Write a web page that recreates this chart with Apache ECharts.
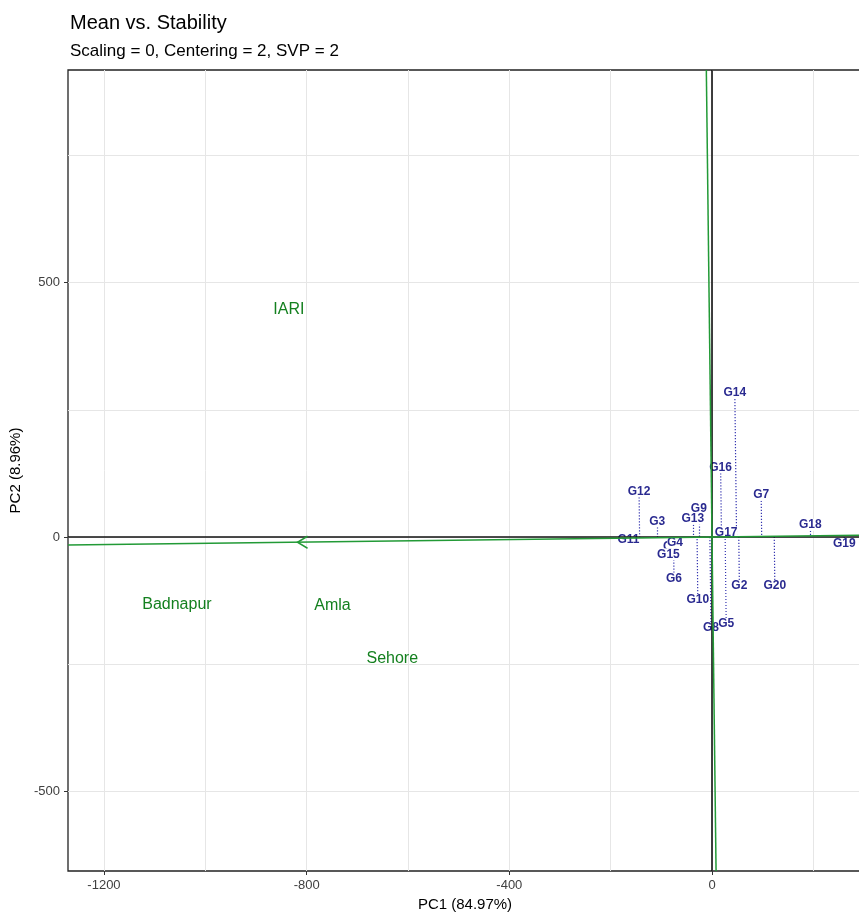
<!DOCTYPE html>
<html>
<head>
    <meta charset="utf-8">
    <title>Mean vs. Stability</title>
    <script src="https://cdn.jsdelivr.net/npm/echarts@6.0.0/dist/echarts.min.js"></script>
    <style>
        body { margin: 0; background: #fff; }
    </style>
</head>
<body>
<div id="main" style="width:859px;height:914px;"></div>
<script>
    // genotype scores (PC1, PC2)
    var genotypes = ['G1','G2','G3','G4','G5','G6','G7','G8','G9','G10',
                     'G11','G12','G13','G14','G15','G16','G17','G18','G19','G20'];
    var genX = [-81, 54, -108, -73, 28, -75, 97, -2, -26, -28,
                -165, -144, -38, 45, -86, 17, 28, 194, 261, 124];
    var genY = [-19, -96, 31, -11, -171, -82, 83, -179, 56, -124,
                -6, 90, 36, 283, -34, 137, 8, 24, -14, -96];

    // environment scores
    var envs = ['IARI', 'Badnapur', 'Amla', 'Sehore'];
    var envX = [-835, -1056, -749, -631];
    var envY = [446, -132, -134, -238];

    // average environment coordinate (arrow of the AEA)
    var avgEnv = [-818, -10];

    var xTicks = [-1200, -800, -400, 0];
    var yTicks = [-500, 0, 500];
    var xGrid = [-1200, -1000, -800, -600, -400, -200, 0, 200];
    var yGrid = [-500, -250, 0, 250, 500, 750];

    var xMin = -1271, xMax = 296, yMin = -656, yMax = 917.5;
    var green = '#229a36', blue = '#2a2a90';
    var font = 'Liberation Sans, Arial, sans-serif';

    var len = Math.sqrt(avgEnv[0] * avgEnv[0] + avgEnv[1] * avgEnv[1]);
    var ux = avgEnv[0] / len, uy = avgEnv[1] / len;

    var gridData = [];
    xGrid.forEach(function (v) { gridData.push({coords: [[v, yMin], [v, yMax]]}); });
    yGrid.forEach(function (v) { gridData.push({coords: [[xMin, v], [xMax, v]]}); });

    var projData = genotypes.map(function (g, i) {
        var t = genX[i] * ux + genY[i] * uy;
        return {coords: [[genX[i], genY[i]], [t * ux, t * uy]]};
    });

    var zeroData = [
        {coords: [[xMin, 0], [xMax, 0]]},
        {coords: [[0, yMin], [0, yMax]]}
    ];
    var aeaData = [
        {coords: [[xMin, xMin * uy / ux], [xMax, xMax * uy / ux]]},
        {coords: [[-uy * yMax / ux, yMax], [-uy * yMin / ux, yMin]]}
    ];

    var myChart = echarts.init(document.getElementById('main'));
    myChart.setOption({
        backgroundColor: '#fff',
        animation: false,
        textStyle: {fontFamily: font},
        title: [{
            text: 'Mean vs. Stability',
            left: 65, top: 8,
            textStyle: {fontSize: 20, fontWeight: 'normal', color: '#000', fontFamily: font}
        }, {
            text: 'Scaling = 0, Centering = 2, SVP = 2',
            left: 65, top: 38,
            textStyle: {fontSize: 17, fontWeight: 'normal', color: '#000', fontFamily: font}
        }],
        grid: {
            left: 68, top: 70, width: 794, height: 801,
            outerBoundsMode: 'none', containLabel: false,
            show: true, borderColor: '#222', borderWidth: 1.3, backgroundColor: '#fff'
        },
        xAxis: {
            type: 'value', min: xMin, max: xMax,
            name: 'PC1 (84.97%)', nameLocation: 'middle', nameGap: 26,
            nameTextStyle: {fontSize: 15, color: '#000', fontFamily: font},
            axisLine: {show: false, onZero: false},
            axisTick: {show: true, length: 4, customValues: xTicks, lineStyle: {color: '#333'}},
            axisLabel: {
                customValues: xTicks, margin: 8, fontSize: 13, color: '#404040',
                formatter: function (v) { return String(v); }
            },
            splitLine: {show: false}
        },
        yAxis: {
            type: 'value', min: yMin, max: yMax,
            name: 'PC2 (8.96%)', nameLocation: 'middle', nameGap: 30, nameRotate: 90,
            nameTextStyle: {fontSize: 15, color: '#000', fontFamily: font},
            axisLine: {show: false, onZero: false},
            axisTick: {show: true, length: 4, customValues: yTicks, lineStyle: {color: '#333'}},
            axisLabel: {
                customValues: yTicks, margin: 8, fontSize: 13, color: '#404040',
                formatter: function (v) { return String(v); }
            },
            splitLine: {show: false}
        },
        series: [
            {
                type: 'lines', coordinateSystem: 'cartesian2d', z: 1, silent: true,
                data: gridData,
                lineStyle: {color: '#e6e6e6', width: 1, opacity: 1}
            },
            {
                type: 'lines', coordinateSystem: 'cartesian2d', z: 2, silent: true,
                data: projData,
                lineStyle: {color: '#3434b0', width: 1.2, type: [1.2, 1.8], opacity: 1}
            },
            {
                type: 'scatter', z: 3, symbolSize: 1,
                itemStyle: {color: 'transparent', opacity: 1},
                data: genotypes.map(function (g, i) { return {name: g, value: [genX[i], genY[i]]}; }),
                label: {
                    show: true, position: 'inside', formatter: '{b}',
                    fontSize: 12, fontWeight: 'bold', color: blue, fontFamily: font,
                    backgroundColor: '#fff', padding: [0, 0]
                }
            },
            {
                type: 'scatter', z: 3, symbolSize: 1,
                itemStyle: {color: 'transparent', opacity: 1},
                data: envs.map(function (e, i) { return {name: e, value: [envX[i], envY[i]]}; }),
                label: {
                    show: true, position: 'inside', formatter: '{b}',
                    fontSize: 16, color: '#14801f', fontFamily: font
                }
            },
            {
                type: 'lines', coordinateSystem: 'cartesian2d', z: 4, silent: true,
                data: zeroData,
                lineStyle: {color: '#111', width: 1.6, opacity: 1}
            },
            {
                type: 'lines', coordinateSystem: 'cartesian2d', z: 5, silent: true,
                data: aeaData,
                lineStyle: {color: green, width: 1.5, opacity: 1}
            },
            {
                type: 'scatter', z: 6, silent: true,
                symbol: 'path://M10,0 L0,6 L10,12',
                symbolSize: [10, 12], symbolOffset: [5, 0],
                itemStyle: {color: 'transparent', borderColor: green, borderWidth: 1.5, opacity: 1},
                data: [avgEnv]
            }
        ]
    });
</script>
</body>
</html>
